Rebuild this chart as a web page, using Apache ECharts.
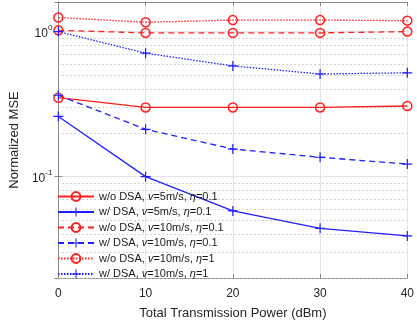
<!DOCTYPE html>
<html>
<head>
<meta charset="utf-8">
<script src="https://cdn.jsdelivr.net/npm/echarts@6/dist/echarts.min.js"></script>
<style>
  html, body { margin: 0; padding: 0; background: #fff; }
  #chart { width: 417px; height: 326px; }
</style>
</head>
<body>
<div id="chart"></div>
<script>
// transmission power (dBm)
const powers = [0, 10, 20, 30, 40]

// normalized MSE per curve
const woDsaV5Eta01 = [0.35, 0.30, 0.30, 0.30, 0.307]
const wDsaV5Eta01 = [0.26, 0.10, 0.058, 0.044, 0.039]
const woDsaV10Eta01 = [1.02, 0.98, 0.98, 0.98, 1.0]
const wDsaV10Eta01 = [0.364, 0.212, 0.155, 0.136, 0.122]
const woDsaV10Eta1 = [1.25, 1.16, 1.2, 1.2, 1.19]
const wDsaV10Eta1 = [1.0, 0.71, 0.58, 0.51, 0.52]

const seriesNames = [
  'w/o DSA, v=5m/s, η=0.1',
  'w/ DSA, v=5m/s, η=0.1',
  'w/o DSA, v=10m/s, η=0.1',
  'w/ DSA, v=10m/s, η=0.1',
  'w/o DSA, v=10m/s, η=1',
  'w/ DSA, v=10m/s, η=1'
]

// dotted minor grid of the log axis
const minorGrid = [0.02, 0.03, 0.04, 0.05, 0.06, 0.07, 0.08, 0.09,
  0.2, 0.3, 0.4, 0.5, 0.6, 0.7, 0.8, 0.9]

const RED = '#ff1f1f'
const BLUE = '#1f1fff'
const FONT = 'Liberation Sans, Arial, sans-serif'
const PLUS = 'path://M4.4,0H5.6V10H4.4Z M0,4.4H10V5.6H0Z'

function pairs(values) {
  return powers.map((p, i) => [p, values[i]])
}

function curve(name, values, color, type, marker) {
  const circle = marker === 'circle'
  return {
    name,
    type: 'line',
    data: pairs(values),
    symbol: circle ? 'circle' : PLUS,
    symbolSize: circle ? 9 : 10,
    showAllSymbol: true,
    lineStyle: { color, width: 1.3, type },
    itemStyle: circle
      ? { color: 'rgba(255,255,255,0)', borderColor: color, borderWidth: 1.5 }
      : { color, borderWidth: 0 },
    emphasis: { disabled: true },
    z: 3
  }
}

function legendLabel(name) {
  const m = name.match(/^(.*?, )v(=.*?, )η(=.*)$/)
  return '{n|' + m[1] + '}{i|v}{n|' + m[2] + '}{i|η}{n|' + m[3] + '}'
}

function yLabel(v) {
  const e = Math.log10(v)
  if (Math.abs(e - Math.round(e)) > 1e-6) return ''
  return '{b|10}{s|' + Math.round(e) + '}'
}

const chart = echarts.init(document.getElementById('chart'), null, { renderer: 'canvas' })

const list = [
  curve(seriesNames[0], woDsaV5Eta01, RED, 'solid', 'circle'),
  curve(seriesNames[1], wDsaV5Eta01, BLUE, 'solid', 'plus'),
  curve(seriesNames[2], woDsaV10Eta01, RED, [6, 4], 'circle'),
  curve(seriesNames[3], wDsaV10Eta01, BLUE, [6, 4], 'plus'),
  curve(seriesNames[4], woDsaV10Eta1, RED, [1.5, 1.5], 'circle'),
  curve(seriesNames[5], wDsaV10Eta1, BLUE, [1.5, 1.5], 'plus')
]

list[0].markLine = {
  silent: true,
  symbol: 'none',
  label: { show: false },
  lineStyle: { color: '#c4c4c4', width: 1, type: [1.5, 2.5] },
  data: minorGrid.map(v => ({ yAxis: v })),
  z: 1
}

chart.setOption({
  backgroundColor: '#fff',
  animation: false,
  textStyle: { fontFamily: FONT },
  grid: { left: 55, right: 6, top: 2, bottom: 48, containLabel: false },
  legend: {
    orient: 'vertical',
    left: 52,
    top: 186,
    itemWidth: 36,
    itemHeight: 11,
    itemGap: 4.5,
    selectedMode: false,
    data: seriesNames,
    formatter: legendLabel,
    textStyle: {
      fontFamily: FONT,
      color: '#1a1a1a',
      rich: {
        n: { fontSize: 11, fontFamily: FONT, color: '#1a1a1a' },
        i: { fontSize: 11, fontFamily: FONT, fontStyle: 'italic', color: '#1a1a1a' }
      }
    }
  },
  xAxis: [{
    type: 'value',
    min: 0,
    max: 40,
    interval: 10,
    name: 'Total Transmission Power (dBm)',
    nameLocation: 'middle',
    nameGap: 29,
    nameTextStyle: { fontSize: 13, color: '#262626', fontFamily: FONT },
    axisLine: { lineStyle: { color: '#8a8a8a', width: 1 } },
    axisTick: { inside: true, length: 4, lineStyle: { color: '#8a8a8a' } },
    axisLabel: { fontSize: 12, color: '#262626', margin: 10 },
    splitLine: { lineStyle: { color: '#e3e3e3', width: 1 } }
  }, {
    type: 'value',
    position: 'top',
    min: 0,
    max: 40,
    interval: 10,
    axisLine: { show: true, lineStyle: { color: '#8a8a8a', width: 1 } },
    axisTick: { inside: true, length: 4, lineStyle: { color: '#8a8a8a' } },
    axisLabel: { show: false },
    splitLine: { show: false }
  }],
  yAxis: [{
    type: 'log',
    logBase: 10,
    min: 0.02,
    max: 1.6,
    name: 'Normalized MSE',
    nameLocation: 'middle',
    nameGap: 36,
    nameTextStyle: { fontSize: 13, color: '#262626', fontFamily: FONT },
    axisLine: { show: true, lineStyle: { color: '#8a8a8a', width: 1 } },
    axisTick: { inside: true, length: 4, lineStyle: { color: '#8a8a8a' } },
    axisLabel: {
      formatter: yLabel,
      margin: 6,
      rich: {
        b: { fontSize: 12, color: '#262626', fontFamily: FONT, verticalAlign: 'bottom', lineHeight: 16 },
        s: { fontSize: 8, color: '#262626', fontFamily: FONT, verticalAlign: 'top', lineHeight: 16, padding: [0, 0, 8, 0] }
      }
    },
    splitLine: { lineStyle: { color: '#e3e3e3', width: 1 } }
  }, {
    type: 'log',
    logBase: 10,
    min: 0.02,
    max: 1.6,
    position: 'right',
    axisLine: { show: true, lineStyle: { color: '#8a8a8a', width: 1 } },
    axisTick: { inside: true, length: 4, lineStyle: { color: '#8a8a8a' } },
    axisLabel: { show: false },
    splitLine: { show: false }
  }],
  series: list
})
</script>
</body>
</html>
